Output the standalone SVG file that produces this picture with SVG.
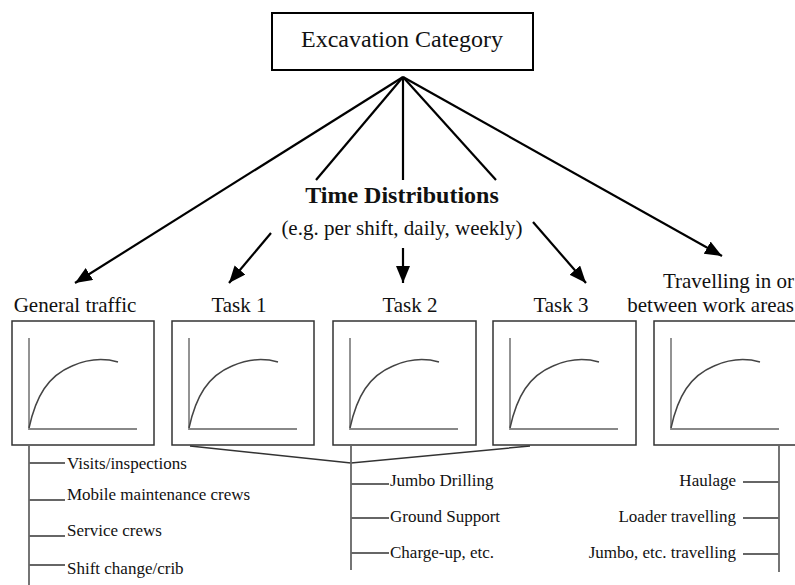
<svg xmlns="http://www.w3.org/2000/svg" xmlns:xlink="http://www.w3.org/1999/xlink" width="795" height="585" viewBox="0 0 795 585">
<style>
.t{font-family:"Liberation Serif","Times New Roman",serif;fill:#111}
.lab{font-size:21px;text-anchor:middle}
.sm{font-size:17px}
.arr{stroke:#000;stroke-width:2.2;fill:none}
.box{fill:#fff;stroke:#333;stroke-width:1.5}
.axis{fill:none;stroke:#888;stroke-width:1.8}
.curve{fill:none;stroke:#444;stroke-width:1.5}
.list{fill:none;stroke:#666;stroke-width:1.8}
.lk{fill:none;stroke:#333;stroke-width:1.5}
</style>
<defs>
<marker id="ah" markerUnits="userSpaceOnUse" markerWidth="20" markerHeight="16" refX="17" refY="7" orient="auto">
<path d="M0,0 L17,7 L0,14 z" fill="#000"/>
</marker>
<g id="chart">
<path class="axis" d="M17,17 V108 H125"/>
<path class="curve" d="M17,107 C24,75 36,55 60,45 C78,37 92,37 106,41"/>
</g>
</defs>

<g id="top">
<rect x="272" y="13" width="261" height="57" fill="#fff" stroke="#000" stroke-width="2"/>
<text class="t" x="402" y="47" font-size="24" text-anchor="middle">Excavation Category</text>
</g>

<g id="time">
<text class="t" x="402" y="203" font-size="24" font-weight="bold" text-anchor="middle">Time Distributions</text>
<text class="t" x="402" y="235" font-size="21" text-anchor="middle">(e.g. per shift, daily, weekly)</text>
</g>

<g id="connectors">
<line class="arr" x1="403" y1="77" x2="75" y2="283" marker-end="url(#ah)"/>
<line class="arr" x1="403" y1="77" x2="316" y2="180"/>
<line class="arr" x1="271" y1="233" x2="229" y2="283" marker-end="url(#ah)"/>
<line class="arr" x1="403" y1="77" x2="403" y2="180"/>
<line class="arr" x1="403" y1="248" x2="403" y2="283" marker-end="url(#ah)"/>
<line class="arr" x1="403" y1="77" x2="496" y2="180"/>
<line class="arr" x1="533" y1="222" x2="586" y2="283" marker-end="url(#ah)"/>
<line class="arr" x1="403" y1="77" x2="722" y2="256" marker-end="url(#ah)"/>
<polyline class="lk" points="190,446 351,463 530,446"/>
</g>

<g id="general">
<text class="t lab" x="75" y="312">General traffic</text>
<rect class="box" x="12" y="321" width="142" height="124"/>
<use xlink:href="#chart" href="#chart" x="12" y="321"/>
<path class="list" d="M29,445 V585 M29,463 H65 M29,500 H65 M29,536 H65 M29,565 H65"/>
<text class="t sm" x="67" y="469">Visits/inspections</text>
<text class="t sm" x="67" y="500">Mobile maintenance crews</text>
<text class="t sm" x="67" y="536">Service crews</text>
<text class="t sm" x="67" y="574">Shift change/crib</text>
</g>

<g id="task1">
<text class="t lab" x="239" y="312">Task 1</text>
<rect class="box" x="172" y="321" width="142" height="124"/>
<use xlink:href="#chart" href="#chart" x="172" y="321"/>
</g>

<g id="task2">
<text class="t lab" x="410" y="312">Task 2</text>
<rect class="box" x="333" y="321" width="143" height="124"/>
<use xlink:href="#chart" href="#chart" x="333" y="321"/>
<path class="list" d="M351,446 V570 M351,484 H389 M351,518 H389 M351,553 H389"/>
<text class="t sm" x="390" y="486">Jumbo Drilling</text>
<text class="t sm" x="390" y="522">Ground Support</text>
<text class="t sm" x="390" y="558">Charge-up, etc.</text>
</g>

<g id="task3">
<text class="t lab" x="561" y="312">Task 3</text>
<rect class="box" x="493" y="321" width="143" height="124"/>
<use xlink:href="#chart" href="#chart" x="493" y="321"/>
</g>

<g id="travel">
<text class="t" x="794" y="288" font-size="21" text-anchor="end">Travelling in or</text>
<text class="t" x="794" y="312" font-size="21" text-anchor="end">between work areas</text>
<rect class="box" x="654" y="321" width="143" height="124"/>
<use xlink:href="#chart" href="#chart" x="654" y="321"/>
<path class="list" d="M779,445 V572 M743,482 H779 M743,518 H779 M743,554 H779"/>
<text class="t sm" x="736" y="486" text-anchor="end">Haulage</text>
<text class="t sm" x="736" y="522" text-anchor="end">Loader travelling</text>
<text class="t sm" x="736" y="558" text-anchor="end">Jumbo, etc. travelling</text>
</g>
</svg>
